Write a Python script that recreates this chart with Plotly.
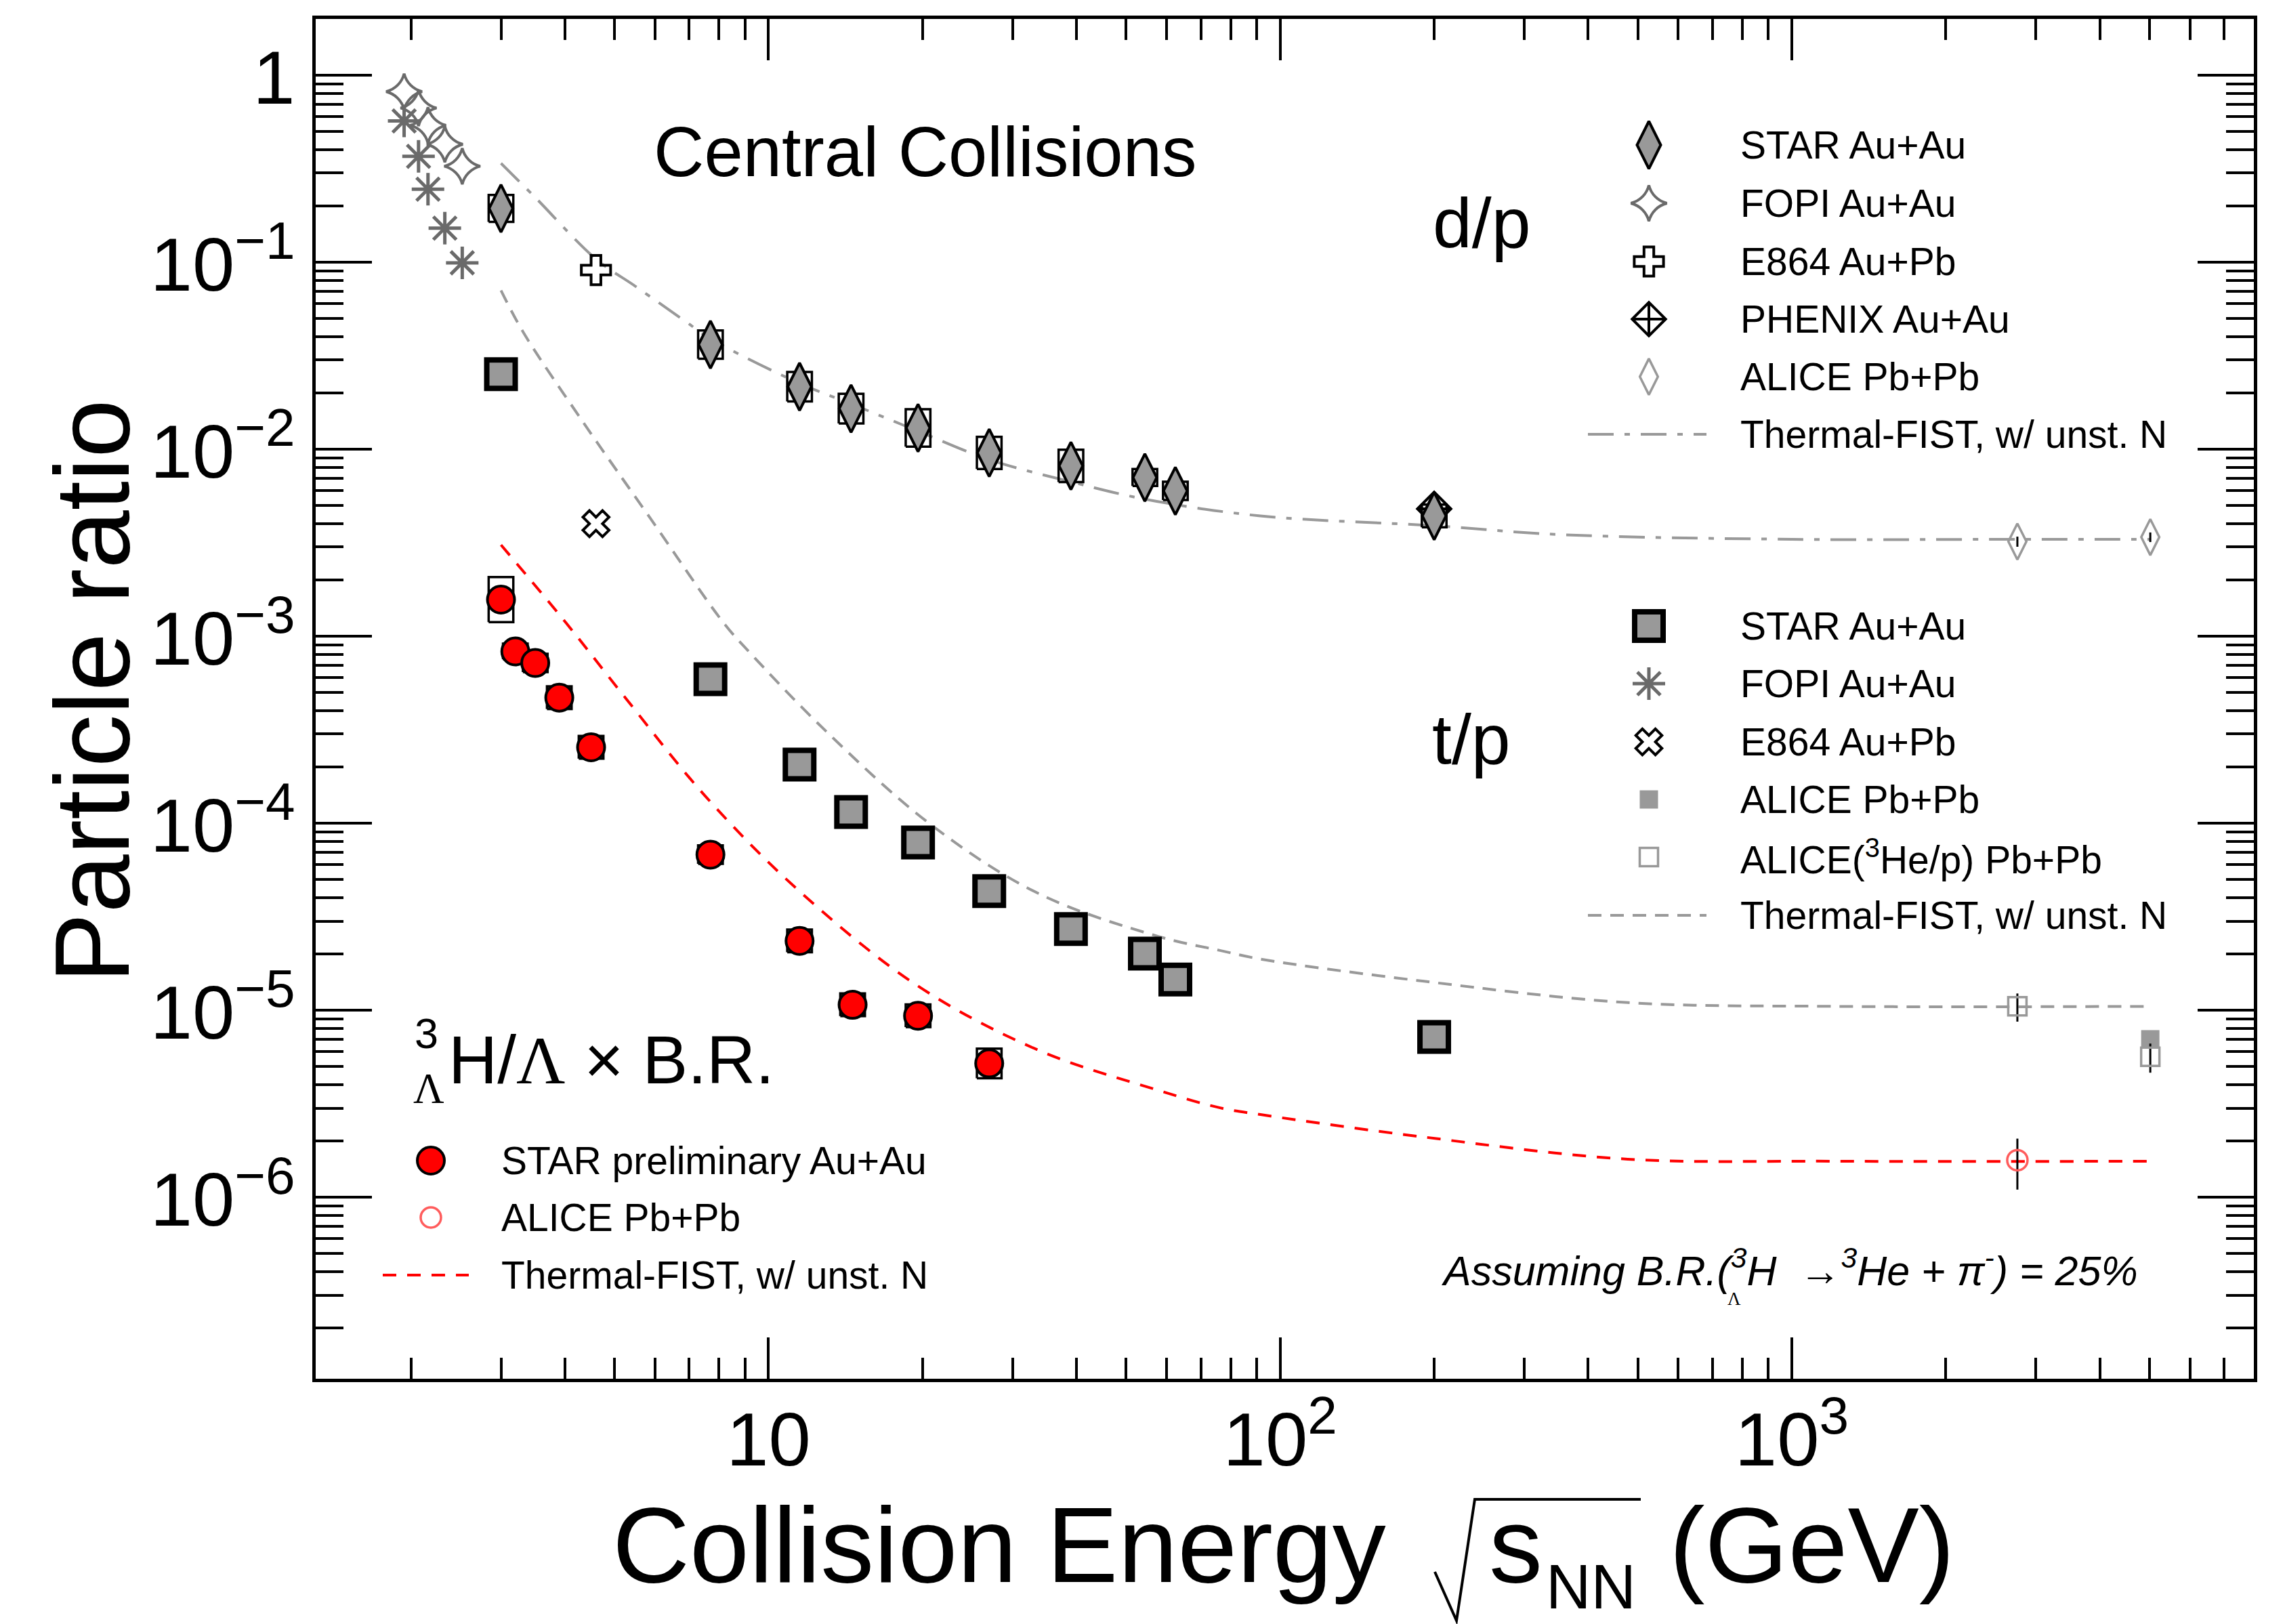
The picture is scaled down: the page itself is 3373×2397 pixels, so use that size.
import math
import plotly.graph_objects as go

# ---------------- data ----------------
# d/p
dp_star_x = [3.0, 7.7, 11.5, 14.5, 19.6, 27.0, 39.0, 54.4, 62.4, 200.0]
dp_star_y = [0.194, 0.0363, 0.0216, 0.0165, 0.0130, 0.00956, 0.00815, 0.00706, 0.00599, 0.0044]
dp_star_sys = [0.18, 0.19, 0.20, 0.20, 0.26, 0.22, 0.22, 0.11, 0.12, 0.15]
dp_fopi_x = [1.94, 2.07, 2.16, 2.33, 2.52]
dp_fopi_y = [0.817, 0.668, 0.540, 0.427, 0.326]
dp_e864_x = [4.6]
dp_e864_y = [0.0908]
dp_phenix_x = [200.0]
dp_phenix_y = [0.0048]
dp_alice_x = [2760.0, 5020.0]
dp_alice_y = [0.00321, 0.00339]
dp_alice_err = [0.0002, 0.0002]
dp_fist_x = [3.0, 3.5, 4.6, 5.5, 6.9, 7.7, 11.5, 14.5, 19.6, 27.0, 39.0, 54.6, 91.5, 200.0, 350.0, 1000.0, 2760.0, 5020.0]
dp_fist_y = [0.338, 0.222, 0.104, 0.0742, 0.048, 0.039, 0.0225, 0.0175, 0.0125, 0.0088, 0.0067, 0.0054, 0.0044, 0.0039, 0.0035, 0.0033, 0.0033, 0.0033]

# t/p
tp_star_x = [3.0, 7.7, 11.5, 14.5, 19.6, 27.0, 39.0, 54.4, 62.4, 200.0]
tp_star_y = [0.0252, 5.89e-4, 2.06e-4, 1.15e-4, 7.9e-5, 4.34e-5, 2.72e-5, 2.01e-5, 1.46e-5, 7.2e-6]
tp_star_sys = [0.10, 0.12, 0.12, 0.12, 0.14, 0.12, 0.12, 0.08, 0.08, 0.10]
tp_fopi_x = [1.94, 2.07, 2.16, 2.33, 2.52]
tp_fopi_y = [0.569, 0.368, 0.2456, 0.152, 0.0993]
tp_e864_x = [4.6]
tp_e864_y = [0.0040]
tp_alice_x = [5020.0]
tp_alice_y = [7.0e-6]
tp_alice3he_x = [2760.0, 5020.0]
tp_alice3he_y = [1.05e-5, 5.64e-6]
tp_alice3he_err = [1.8e-6, 1.0e-6]
tp_fist_x = [3.0, 3.32, 4.36, 5.88, 8.15, 9.1, 12.95, 20.6, 33.6, 57.9, 76.3, 91.5, 191.0, 478.0, 1197.0, 5020.0]
tp_fist_y = [0.0707, 0.042, 0.01373, 0.00426, 0.00119, 8.43e-4, 3.11e-4, 1.0e-4, 4.23e-5, 2.48e-5, 2.09e-5, 1.88e-5, 1.43e-5, 1.10e-5, 1.05e-5, 1.05e-5]

# hypertriton / Lambda x B.R.
ht_star_x = [3.0, 3.2, 3.5, 3.9, 4.5, 7.7, 11.5, 14.6, 19.6, 27.0]
ht_star_y = [1.57e-3, 8.3e-4, 7.2e-4, 4.7e-4, 2.55e-4, 6.8e-5, 2.35e-5, 1.07e-5, 9.35e-6, 5.2e-6]
ht_star_sys = [0.32, 0.10, 0.12, 0.15, 0.15, 0.12, 0.15, 0.15, 0.15, 0.20]
ht_alice_x = [2760.0]
ht_alice_y = [1.58e-6]
ht_alice_err = [0.48e-6]
ht_fist_x = [3.0, 4.02, 5.27, 7.52, 11.3, 19.5, 33.6, 57.9, 76.3, 91.5, 191.0, 478.0, 1197.0, 5020.0]
ht_fist_y = [3.08e-3, 1.18e-3, 4.63e-4, 1.4e-4, 4.52e-5, 1.36e-5, 6.14e-6, 3.73e-6, 3.01e-6, 2.77e-6, 2.10e-6, 1.60e-6, 1.56e-6, 1.56e-6]

x_ticks = [10, 100, 1000]
x_ticktext = ["10", "10<sup>2</sup>", "10<sup>3</sup>"]
y_ticks = [1e-6, 1e-5, 1e-4, 1e-3, 1e-2, 1e-1, 1]
y_ticktext = ["10<sup>\u22126</sup>", "10<sup>\u22125</sup>", "10<sup>\u22124</sup>", "10<sup>\u22123</sup>",
              "10<sup>\u22122</sup>", "10<sup>\u22121</sup>", "1"]

# ---------------- layout geometry (reference pixels) ----------------
W, H = 3373, 2397
O = 8  # page body margin offset
L, R, T, B = 466, 3327, 28, 2035
FONT = "Liberation Sans"
GRAY = "#999999"
DGRAY = "#6a6a6a"
RED = "#ff0000"
LRED = "#ff5c5c"


def pxx(x):
    return (x - L) / (R - L)


def pxy(y):
    return (B - y) / (B - T)


XR = [math.log10(1.303), math.log10(8000)]
YR = [-6.97, 0.3007]

x_minor = [d * 10 ** k for k in range(0, 4) for d in range(2, 10) if 1.303 <= d * 10 ** k <= 8000]
y_minor = [d * 10 ** k for k in range(-7, 1) for d in range(2, 10) if 1.07e-7 <= d * 10 ** k <= 2.0]

# marker styles
S_dp_star = dict(symbol="diamond-tall", size=50, color=GRAY, line=dict(color="black", width=4))
S_dp_fopi = dict(symbol="star-diamond-open", size=38, color=DGRAY, line=dict(color=DGRAY, width=4))
S_dp_e864 = dict(symbol="cross-open", size=36, color="black", line=dict(color="black", width=4))
S_dp_phenix = dict(symbol="diamond-cross-open", size=38, color="black", line=dict(color="black", width=4))
S_dp_alice = dict(symbol="diamond-tall-open", size=38, color=GRAY, line=dict(color=GRAY, width=3.5))
S_tp_star = dict(symbol="square", size=42, color=GRAY, line=dict(color="black", width=8))
S_tp_fopi = dict(symbol="asterisk-open", size=40, color=DGRAY, line=dict(color=DGRAY, width=5))
S_tp_e864 = dict(symbol="x-open", size=34, color="black", line=dict(color="black", width=4))
S_tp_alice = dict(symbol="square", size=27, color=GRAY, line=dict(color=GRAY, width=0))
S_tp_alice3 = dict(symbol="square-open", size=27, color=GRAY, line=dict(color=GRAY, width=3.5))
S_ht_star = dict(symbol="circle", size=40, color=RED, line=dict(color="black", width=4))
S_ht_alice = dict(symbol="circle-open", size=30, color=LRED, line=dict(color=LRED, width=3.5))

L_dp = dict(color=GRAY, width=4, dash="38px,16px,8px,16px")
L_tp = dict(color=GRAY, width=4, dash="20px,13px")
L_ht = dict(color=RED, width=4, dash="20px,16px")

fig = go.Figure()


def curve(xs, ys, line):
    fig.add_trace(go.Scatter(x=xs, y=ys, mode="lines", line=dict(shape="spline", smoothing=1.0, **line),
                             showlegend=False, hoverinfo="skip"))


def boxes(xs, ys, rel, halfw=1.057, width=3.5):
    bx, by = [], []
    for x, y, r in zip(xs, ys, rel):
        x0, x1 = x / halfw, x * halfw
        y0, y1 = y / (1 + r), y * (1 + r)
        bx += [x0, x1, x1, x0, x0, None]
        by += [y0, y0, y1, y1, y0, None]
    fig.add_trace(go.Scatter(x=bx, y=by, mode="lines", line=dict(color="black", width=width),
                             showlegend=False, hoverinfo="skip"))


def pts(xs, ys, style, err=None):
    kw = {}
    if err is not None:
        kw["error_y"] = dict(type="data", array=err, color="black", thickness=3, width=0)
    fig.add_trace(go.Scatter(x=xs, y=ys, mode="markers", marker=style, showlegend=False,
                             cliponaxis=False, **kw))


curve(dp_fist_x, dp_fist_y, L_dp)
curve(tp_fist_x, tp_fist_y, L_tp)
curve(ht_fist_x, ht_fist_y, L_ht)

boxes(dp_star_x, dp_star_y, dp_star_sys)
boxes(tp_star_x, tp_star_y, tp_star_sys)
boxes(ht_star_x, ht_star_y, ht_star_sys)

pts(dp_fopi_x, dp_fopi_y, S_dp_fopi)
pts(tp_fopi_x, tp_fopi_y, S_tp_fopi)
pts(dp_e864_x, dp_e864_y, S_dp_e864)
pts(tp_e864_x, tp_e864_y, S_tp_e864)
pts(dp_phenix_x, dp_phenix_y, S_dp_phenix)
pts(dp_star_x, dp_star_y, S_dp_star)
pts(tp_star_x, tp_star_y, S_tp_star)
pts(dp_alice_x, dp_alice_y, S_dp_alice, dp_alice_err)
pts(tp_alice_x, tp_alice_y, S_tp_alice)
pts(tp_alice3he_x, tp_alice3he_y, S_tp_alice3, tp_alice3he_err)
pts(ht_alice_x, ht_alice_y, S_ht_alice, ht_alice_err)
pts(ht_star_x, ht_star_y, S_ht_star)

# ---------------- legends (drawn on a pixel overlay axis) ----------------
annotations = []
shapes = []


def text(x, y, s, size, xanchor="left", yanchor="middle", angle=0, family=FONT, color="black"):
    annotations.append(dict(x=pxx(x), y=pxy(y), xref="paper", yref="paper", text=s, showarrow=False,
                            xanchor=xanchor, yanchor=yanchor, textangle=angle,
                            font=dict(family=family, size=size, color=color)))


def glyph(x, y, style):
    fig.add_trace(go.Scatter(x=[x], y=[y], xaxis="x2", yaxis="y2", mode="markers", marker=style,
                             showlegend=False, hoverinfo="skip", cliponaxis=False))


def lsample(x0, x1, y, line):
    shapes.append(dict(type="line", xref="paper", yref="paper", x0=pxx(x0), x1=pxx(x1), y0=pxy(y), y1=pxy(y),
                       line=dict(color=line["color"], width=line["width"], dash=line["dash"])))


LEG_FS = 57
leg1 = [("STAR Au+Au", S_dp_star), ("FOPI Au+Au", S_dp_fopi), ("E864 Au+Pb", S_dp_e864),
        ("PHENIX Au+Au", S_dp_phenix), ("ALICE Pb+Pb", S_dp_alice), ("Thermal-FIST, w/ unst. N", L_dp)]
leg1_y = [214, 300, 386, 471, 556, 641]
leg2 = [("STAR Au+Au", S_tp_star), ("FOPI Au+Au", S_tp_fopi), ("E864 Au+Pb", S_tp_e864),
        ("ALICE Pb+Pb", S_tp_alice), ("ALICE(<sup>3</sup>He/p) Pb+Pb", S_tp_alice3),
        ("Thermal-FIST, w/ unst. N", L_tp)]
leg2_y = [924, 1009, 1095, 1180, 1265, 1351]
for items, ys in ((leg1, leg1_y), (leg2, leg2_y)):
    for (lab, st), yy in zip(items, ys):
        if "symbol" in st:
            glyph(2434, yy, st)
        else:
            lsample(2344, 2519, yy, st)
        text(2567, yy, lab, LEG_FS)

leg3 = [("STAR preliminary Au+Au", S_ht_star), ("ALICE Pb+Pb", S_ht_alice), ("Thermal-FIST, w/ unst. N", L_ht)]
leg3_y = [1713, 1797, 1882]
for (lab, st), yy in zip(leg3, leg3_y):
    if "symbol" in st:
        glyph(636, yy, st)
    else:
        lsample(565, 692, yy, st)
    text(738, yy, lab, LEG_FS)

# ---------------- other text ----------------
text(1365, 224, "Central Collisions", 103, xanchor="center")
text(2187, 329, "d/p", 104, xanchor="center")
text(2172, 1091, "t/p", 104, xanchor="center")

text(629, 1525, "3", 63, xanchor="center")
text(633, 1607, "\u039b", 63, xanchor="center", family="Liberation Serif")
text(660, 1564, "H/<span style=\"font-family:'Liberation Serif'\">\u039b</span> \u00d7 B.R.", 100)

text(2125, 1871, "<i>Assuming B.R.(<sup>3</sup>H\u00a0\u00a0\u2192<sup>3</sup>He + \u03c0<sup>-</sup>) = 25%</i>", 61)
text(2560, 1917, "\u039b", 27, xanchor="center", family="Liberation Serif")

# axis titles
text(137, 1021, "Particle ratio", 155, xanchor="center", angle=-90)
text(2048, 2280, "Collision Energy", 158, xanchor="right")
text(2196, 2280, "s", 158)
text(2280, 2342, "NN", 92)
text(2462, 2280, "(GeV)", 158)
shapes.append(dict(type="path", xref="paper", yref="paper",
                   path="M %f,%f L %f,%f L %f,%f L %f,%f" % (pxx(2118), pxy(2320), pxx(2150), pxy(2392),
                                                            pxx(2177), pxy(2213), pxx(2422), pxy(2213)),
                   line=dict(color="black", width=4)))

axis_common = dict(showgrid=False, zeroline=False, showline=True, linecolor="black", linewidth=5,
                   ticks="inside", tickcolor="black", tickwidth=4, mirror="allticks",
                   tickfont=dict(family=FONT, size=112, color="black"))

fig.update_layout(
    width=W - O, height=H - O, autosize=False,
    margin=dict(l=L - O, r=W - R, t=T - O, b=H - B, pad=0),
    paper_bgcolor="white", plot_bgcolor="white",
    showlegend=False,
    xaxis=dict(type="log", range=XR, tickmode="array", tickvals=x_ticks, ticktext=x_ticktext,
               ticklen=61, ticklabelstandoff=-11,
               minor=dict(tickmode="array", tickvals=x_minor, ticks="inside", ticklen=31, tickwidth=4,
                          tickcolor="black", showgrid=False),
               **axis_common),
    yaxis=dict(type="log", range=YR, tickmode="array", tickvals=y_ticks, ticktext=y_ticktext,
               ticklen=83, ticklabelstandoff=3, ticklabelshift=3,
               minor=dict(tickmode="array", tickvals=y_minor, ticks="inside", ticklen=41, tickwidth=4,
                          tickcolor="black", showgrid=False),
               **axis_common),
    xaxis2=dict(overlaying="x", anchor="y2", range=[L, R], visible=False, fixedrange=True),
    yaxis2=dict(overlaying="y", anchor="x2", range=[B, T], visible=False, fixedrange=True),
    annotations=annotations,
    shapes=shapes,
)

fig.write_html("out.html")
